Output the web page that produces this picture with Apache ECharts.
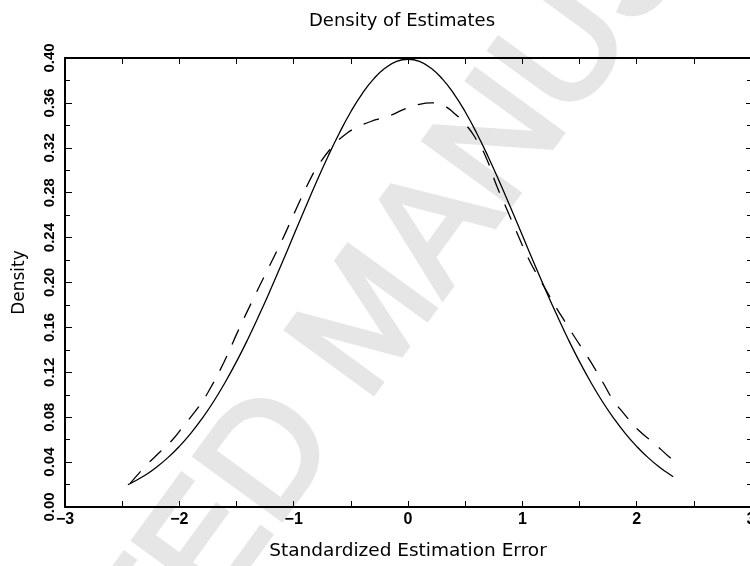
<!DOCTYPE html>
<html>
<head>
<meta charset="utf-8">
<title>Density of Estimates</title>
<script src="https://cdn.jsdelivr.net/npm/echarts@6/dist/echarts.min.js"></script>
<style>
  html, body { margin: 0; padding: 0; background: #fff; }
  #chart { width: 750px; height: 566px; }
</style>
</head>
<body>
<div id="chart"></div>
<script>
// solid curve (normal reference density)
const normalX = [-2.45, -2.3, -2.2, -2.1, -2.0, -1.9, -1.8, -1.7, -1.6, -1.5, -1.4, -1.3, -1.2, -1.1, -1.0,
  -0.9, -0.8, -0.7, -0.6, -0.5, -0.4, -0.3, -0.2, -0.1, 0,
  0.1, 0.2, 0.3, 0.4, 0.5, 0.6, 0.7, 0.8, 0.9, 1.0, 1.1, 1.2, 1.3, 1.4, 1.5, 1.6, 1.7, 1.8, 1.9, 2.0,
  2.1, 2.2, 2.3, 2.32]
const normalY = [0.0198, 0.0283, 0.0355, 0.0440, 0.0540, 0.0656, 0.0790, 0.0940, 0.1109, 0.1295, 0.1497, 0.1714, 0.1942, 0.2179, 0.2420,
  0.2661, 0.2897, 0.3123, 0.3332, 0.3521, 0.3683, 0.3814, 0.3910, 0.3970, 0.3989,
  0.3970, 0.3910, 0.3814, 0.3683, 0.3521, 0.3332, 0.3123, 0.2897, 0.2661, 0.2420, 0.2179, 0.1942, 0.1714, 0.1497, 0.1295, 0.1109, 0.0940, 0.0790, 0.0656, 0.0540,
  0.0440, 0.0355, 0.0283, 0.0271]

// dashed curve (kernel estimate)
const kdeX = [-2.43, -2.30, -2.17, -2.05, -1.95, -1.84, -1.75, -1.61, -1.49, -1.36, -1.23, -1.10, -0.98, -0.85, -0.78,
  -0.67, -0.56, -0.43, -0.28, -0.15, -0.02, 0.11, 0.20, 0.30, 0.38, 0.51, 0.60, 0.68, 0.78, 0.87,
  0.95, 1.06, 1.14, 1.22, 1.30, 1.38, 1.46, 1.55, 1.63, 1.71, 1.79, 1.89, 2.01, 2.15, 2.28, 2.32]
const kdeY = [0.021, 0.036, 0.049, 0.061, 0.074, 0.088, 0.102, 0.129, 0.156, 0.184, 0.211, 0.238, 0.265, 0.293, 0.305,
  0.320, 0.331, 0.339, 0.345, 0.349, 0.355, 0.359, 0.360, 0.358, 0.353, 0.340, 0.327, 0.312, 0.285, 0.264,
  0.245, 0.220, 0.205, 0.191, 0.177, 0.164, 0.151, 0.137, 0.124, 0.110, 0.096, 0.083, 0.069, 0.057, 0.045, 0.042]

const xTicks = { min: -3, max: 3, interval: 1 }
const yTicks = { min: 0, max: 0.4, interval: 0.04 }

const tickFont = 'Liberation Sans'
const titleFont = 'DejaVu Sans'

function zip(xs, ys) {
  return xs.map((x, i) => [x, ys[i]])
}

const chart = echarts.init(document.getElementById('chart'))

const frameLine = { show: true, onZero: false, lineStyle: { color: '#000', width: 2 } }

let option = {
  backgroundColor: '#fff',
  animation: false,
  title: {
    text: 'Density of Estimates',
    left: 397,
    top: 7,
    textAlign: 'center',
    textStyle: { fontFamily: titleFont, fontSize: 18, fontWeight: 'normal', color: '#000' }
  },
  graphic: [
    {
      // faint diagonal watermark behind the plot
      type: 'text',
      x: 372,
      y: 322,
      rotation: 54 * Math.PI / 180,
      z: -10,
      silent: true,
      style: {
        text: 'ACCEPTED MANUSCRIPT',
        font: '156px "Liberation Sans"',
        fill: '#e6e6e6',
        stroke: '#e6e6e6',
        lineWidth: 5,
        align: 'center',
        verticalAlign: 'middle'
      }
    }
  ],
  grid: { left: 65, right: -1, top: 58, bottom: 59, containLabel: false, outerBoundsMode: 'none' },
  xAxis: [
    {
      type: 'value',
      position: 'bottom',
      min: xTicks.min,
      max: xTicks.max,
      interval: xTicks.interval,
      name: 'Standardized Estimation Error',
      nameLocation: 'middle',
      nameGap: 35,
      nameTextStyle: { fontFamily: titleFont, fontSize: 18.5, color: '#000' },
      axisLine: frameLine,
      axisTick: { inside: true, length: 6, lineStyle: { color: '#000', width: 1 } },
      minorTick: { show: true, splitNumber: 2, length: 6, lineStyle: { color: '#000', width: 1 } },
      axisLabel: {
        margin: 5,
        color: '#000',
        fontFamily: tickFont,
        fontSize: 16,
        fontWeight: 'bold',
        hideOverlap: false,
        formatter: v => String(v).replace('-', '\u2212')
      },
      splitLine: { show: false }
    },
    {
      type: 'value',
      position: 'top',
      min: xTicks.min,
      max: xTicks.max,
      interval: xTicks.interval,
      axisLine: frameLine,
      axisTick: { inside: true, length: 6, lineStyle: { color: '#000', width: 1 } },
      minorTick: { show: true, splitNumber: 2, length: 6, lineStyle: { color: '#000', width: 1 } },
      axisLabel: { show: false },
      splitLine: { show: false }
    }
  ],
  yAxis: [
    {
      type: 'value',
      position: 'left',
      min: yTicks.min,
      max: yTicks.max,
      interval: yTicks.interval,
      name: 'Density',
      nameLocation: 'middle',
      nameRotate: 90,
      nameGap: 37,
      nameTextStyle: { fontFamily: titleFont, fontSize: 17, color: '#000' },
      axisLine: frameLine,
      axisTick: { inside: true, length: 7, lineStyle: { color: '#000', width: 1 } },
      minorTick: { show: true, splitNumber: 2, length: 5, lineStyle: { color: '#000', width: 1 } },
      axisLabel: {
        rotate: 90,
        margin: 8,
        color: '#000',
        fontFamily: tickFont,
        fontSize: 15,
        fontWeight: 'bold',
        hideOverlap: false,
        formatter: v => v.toFixed(2)
      },
      splitLine: { show: false }
    },
    {
      type: 'value',
      position: 'right',
      min: yTicks.min,
      max: yTicks.max,
      interval: yTicks.interval,
      axisLine: frameLine,
      axisTick: { inside: true, length: 5, lineStyle: { color: '#000', width: 1 } },
      minorTick: { show: true, splitNumber: 2, length: 4, lineStyle: { color: '#000', width: 1 } },
      axisLabel: { show: false },
      splitLine: { show: false }
    }
  ],
  series: [
    {
      name: 'Normal',
      type: 'line',
      data: zip(normalX, normalY),
      smooth: true,
      symbol: 'none',
      lineStyle: { color: '#000', width: 1.3, type: 'solid' }
    },
    {
      name: 'Kernel',
      type: 'line',
      data: zip(kdeX, kdeY),
      smooth: true,
      symbol: 'none',
      lineStyle: { color: '#000', width: 1.3, type: [16, 13] }
    }
  ]
}

chart.setOption(option)
</script>
</body>
</html>
